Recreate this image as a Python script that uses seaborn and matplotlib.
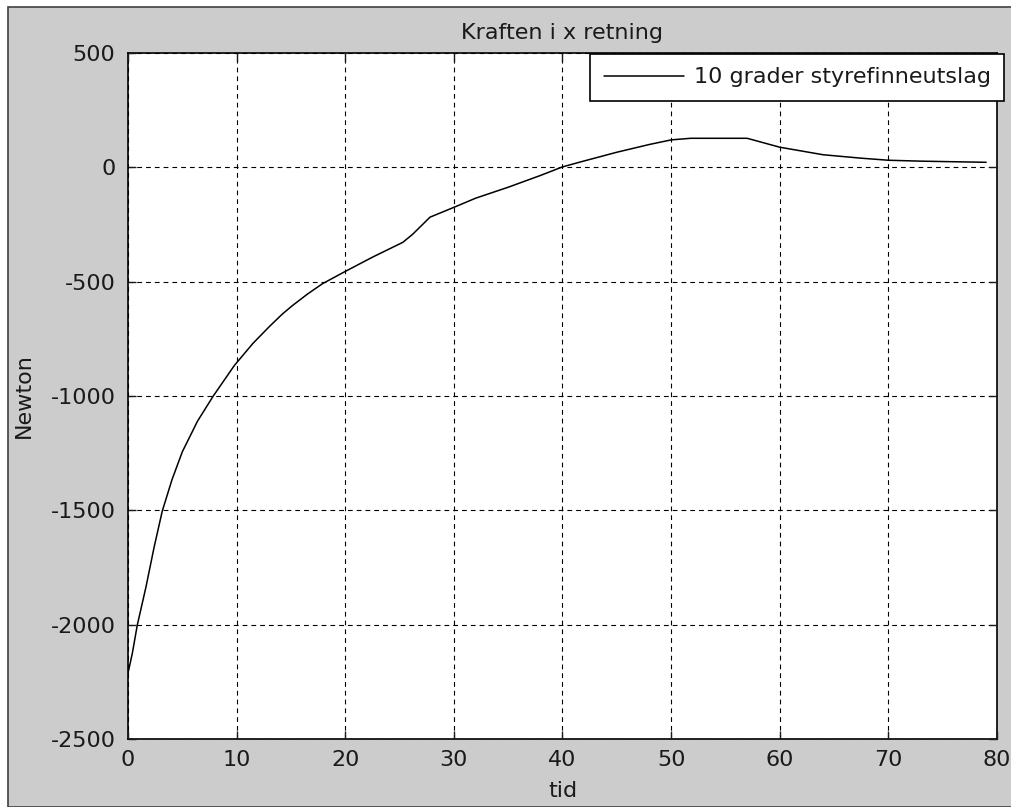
import matplotlib
matplotlib.use("Agg")
import matplotlib.pyplot as plt
import seaborn as sns
import pandas as pd
from matplotlib.patches import Rectangle

# Data
tid = [0, 0.4, 0.85, 1.65, 2.4, 3.15, 4.05, 5.0, 6.4, 7.85, 9.8, 11.5, 13.0,
       14.2, 15.1, 16.5, 17.9, 19.85, 22.5, 25.3, 26.2, 27.8, 30.0, 32.0, 35.0,
       38.0, 40.0, 42.0, 45.0, 48.0, 50.0, 51.8, 57.0, 60.0, 64.0, 67.5, 70.0,
       73.0, 79.0]
kraft = [-2212, -2125, -2003, -1836, -1662, -1504, -1366, -1244, -1110, -1000,
         -866, -770, -697, -642, -606, -555, -509, -459, -393, -328, -293,
         -218, -175, -135, -87, -35, 2, 28, 66, 100, 120, 127, 127, 88, 55, 40,
         31, 27, 22]
series_label = "10 grader styrefinneutslag"
x_ticks = [0, 10, 20, 30, 40, 50, 60, 70, 80]
y_ticks = [-2500, -2000, -1500, -1000, -500, 0, 500]

sns.set_theme(style="ticks")
plt.rcParams['font.family'] = ['DejaVu Sans']
plt.rcParams['axes.unicode_minus'] = False

FS = 16
TXT = "#1a1a1a"
W, H = 1012, 807
fig = plt.figure(figsize=(W / 100, H / 100), dpi=100, facecolor="white")
# window-like grey background with dark border
fig.patches.append(Rectangle((8 / W, 0), 1 - 8 / W, 1 - 7 / H, transform=fig.transFigure,
                             facecolor="#cccccc", edgecolor="#404040", linewidth=1.2,
                             zorder=-10))

ax = fig.add_axes([128 / W, (H - 739) / H, 869 / W, 686 / H])
ax.set_facecolor("white")

df = pd.DataFrame({"tid": tid, "Newton": kraft})
sns.lineplot(data=df, x="tid", y="Newton", ax=ax, color="black", linewidth=1.1,
             label=series_label, sort=False)

ax.set_xlim(0, 80)
ax.set_ylim(-2500, 500)
ax.set_xticks(x_ticks)
ax.set_yticks(y_ticks)
ax.set_xticklabels([str(v) for v in x_ticks])
ax.set_yticklabels([str(v) for v in y_ticks])

ax.grid(True, color="black", linestyle=(0, (4.3, 3.6)), linewidth=0.8)
ax.set_axisbelow(False)
for s in ax.spines.values():
    s.set_visible(True)
    s.set_color("black")
    s.set_linewidth(1.2)

ax.tick_params(direction="in", length=6, width=1, colors=TXT,
               top=True, right=True, labelsize=FS, pad=8)
ax.tick_params(axis="y", pad=9)

ax.set_title("Kraften i x retning", fontsize=FS, color=TXT, pad=10)
ax.set_xlabel("tid", fontsize=FS, color=TXT, labelpad=8)
ax.set_ylabel("Newton", fontsize=FS, color=TXT, labelpad=12)

leg = ax.legend(loc="upper right", bbox_to_anchor=(1004 / W, 1 - 54 / H),
                bbox_transform=fig.transFigure, borderaxespad=0, fancybox=False,
                framealpha=1, edgecolor="black", fontsize=FS, handlelength=3.6,
                handletextpad=0.45, borderpad=0.6)
leg.get_frame().set_linewidth(1.2)
for t in leg.get_texts():
    t.set_color(TXT)

fig.savefig("out.png", dpi=100, facecolor=fig.get_facecolor())
